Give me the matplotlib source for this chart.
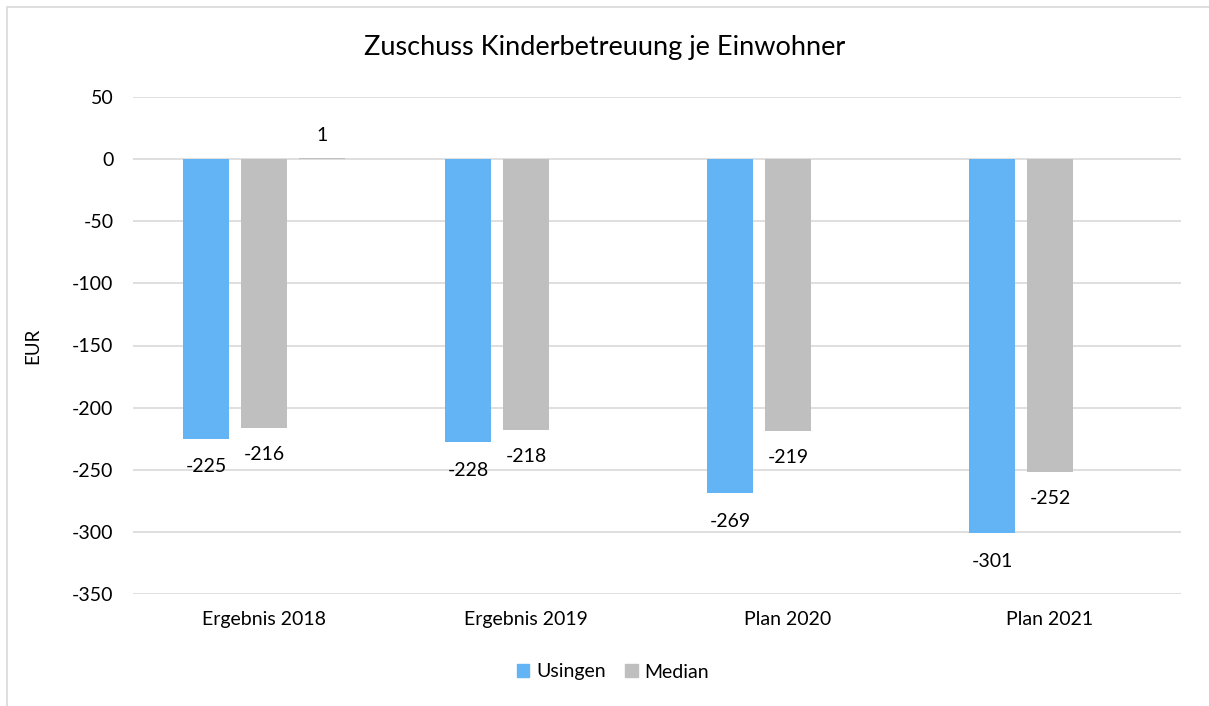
import matplotlib
matplotlib.use("Agg")
import matplotlib.pyplot as plt
from matplotlib.patches import Rectangle, Patch
import numpy as np

categories = ["Ergebnis 2018", "Ergebnis 2019", "Plan 2020", "Plan 2021"]
usingen = [-225, -228, -269, -301]
median = [-216, -218, -219, -252]
extra = [1, None, None, None]
yticks = [50, 0, -50, -100, -150, -200, -250, -300, -350]

plt.rcParams['font.family'] = ['Lato', 'DejaVu Sans']
plt.rcParams['axes.unicode_minus'] = False

W, H = 1209, 706
fig = plt.figure(figsize=(W / 100, H / 100), dpi=100)

# chart frame
fig.patches.append(Rectangle((7 / W, -0.1), 1.2, (H - 7) / H + 0.1,
                             transform=fig.transFigure, fill=False,
                             edgecolor="#d9d9d9", linewidth=1.2))

left, right = 133 / W, 1181 / W
top, bottom = 1 - 97 / H, 1 - 594 / H
ax = fig.add_axes([left, bottom, right - left, top - bottom])

blue = "#63B4F5"
grey = "#BFBFBF"
x = np.arange(len(categories))
step = 0.221
bw = 0.176

ax.set_xlim(-0.5, len(categories) - 0.5)
ax.set_ylim(-350, 50)
ax.set_yticks(yticks)
ax.tick_params(axis='y', length=0, pad=14, labelsize=14)
ax.tick_params(axis='x', length=0, pad=12, labelsize=14)
ax.set_xticks(x)
ax.set_xticklabels(categories)
ax.yaxis.grid(True, color="#d9d9d9", linewidth=1.2)
ax.set_axisbelow(True)
for s in ax.spines.values():
    s.set_visible(False)

b1 = ax.bar(x - step, usingen, bw, color=blue, zorder=2)
b2 = ax.bar(x, median, bw, color=grey, zorder=2)
ex_x = [xi + step for xi, v in zip(x, extra) if v is not None]
ex_v = [v for v in extra if v is not None]
b3 = ax.bar(ex_x, ex_v, bw, color=grey, zorder=2)

for bars, vals, off in ((b1, usingen, -14), (b2, median, -13)):
    for r, v in zip(bars, vals):
        ax.annotate(f"{v}", (r.get_x() + r.get_width() / 2, v),
                    xytext=(0, off), textcoords="offset points",
                    ha="center", va="top", fontsize=14)
for r, v in zip(b3, ex_v):
    ax.annotate(f"{v}", (r.get_x() + r.get_width() / 2, v),
                xytext=(0, 10), textcoords="offset points",
                ha="center", va="bottom", fontsize=14)

# axis title placed at a fixed spot left of the tick labels
fig.text(33 / W, (top + bottom) / 2, "EUR", rotation=90,
         ha="center", va="center", fontsize=13.5)
fig.text(0.5, 1 - 47 / H, "Zuschuss Kinderbetreuung je Einwohner",
         ha="center", va="center", fontsize=19.5)

handles = [Patch(color=blue, label="Usingen"), Patch(color=grey, label="Median")]
fig.legend(handles=handles, loc="center", bbox_to_anchor=(613 / W, 1 - 672 / H),
           ncol=2, frameon=False, fontsize=14, handlelength=0.65,
           handleheight=0.65, handletextpad=0.35, columnspacing=1.0)

fig.savefig("out.png", dpi=100)
